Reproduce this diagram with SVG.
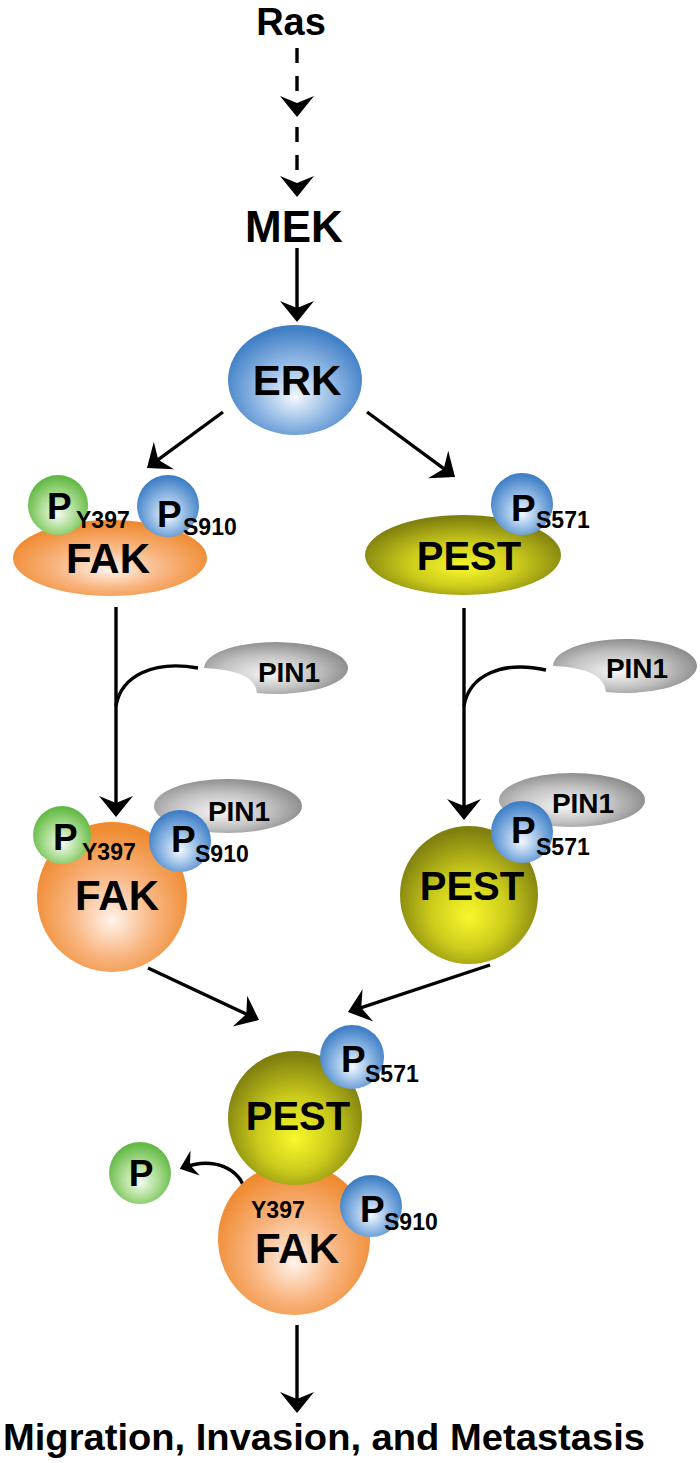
<svg xmlns="http://www.w3.org/2000/svg" width="700" height="1463" viewBox="0 0 700 1463">
<style>
  text { font-family: "Liberation Sans", Arial, sans-serif; font-weight: bold; fill: #000; }
  .big { font-size: 42px; text-anchor: middle; }
  .lbl { font-size: 40px; text-anchor: middle; }
  .p { font-size: 37px; }
  .sub { font-size: 23px; }
  .pin { font-size: 28px; text-anchor: middle; }
  .ln { fill: none; stroke: #000; stroke-width: 3.4; }
  .arr { marker-end: url(#ah); }
  .dash { stroke-dasharray: 15 13; }
</style>
<defs>
  <marker id="ah" viewBox="-23 -18 24 36" refX="-3" refY="0" markerWidth="24" markerHeight="36" markerUnits="userSpaceOnUse" orient="auto">
    <path d="M0,0 L-21,-17 L-14,0 L-21,17 Z" fill="#000"/>
  </marker>
  <marker id="ahs" viewBox="-23 -18 24 36" refX="-3" refY="0" markerWidth="19" markerHeight="28" markerUnits="userSpaceOnUse" orient="auto">
    <path d="M0,0 L-21,-17 L-14,0 L-21,17 Z" fill="#000"/>
  </marker>
  <radialGradient id="gBlue" cx="50%" cy="58%" r="55%" fx="50%" fy="66%">
    <stop offset="0" stop-color="#f4f8fd"/>
    <stop offset="0.5" stop-color="#96bce6"/>
    <stop offset="1" stop-color="#3f7fc6"/>
  </radialGradient>
  <radialGradient id="gOrange" cx="50%" cy="58%" r="55%" fx="50%" fy="66%">
    <stop offset="0" stop-color="#fff3ea"/>
    <stop offset="0.5" stop-color="#f9b682"/>
    <stop offset="1" stop-color="#ef8a30"/>
  </radialGradient>
  <radialGradient id="gOlive" cx="50%" cy="58%" r="55%" fx="50%" fy="66%">
    <stop offset="0" stop-color="#f8f82c"/>
    <stop offset="0.5" stop-color="#cccc1c"/>
    <stop offset="1" stop-color="#80800f"/>
  </radialGradient>
  <radialGradient id="gGreen" cx="50%" cy="58%" r="55%" fx="50%" fy="66%">
    <stop offset="0" stop-color="#f4fbf0"/>
    <stop offset="0.55" stop-color="#a9db8f"/>
    <stop offset="1" stop-color="#62b944"/>
  </radialGradient>
  <radialGradient id="gGray" cx="45%" cy="55%" r="60%" fx="45%" fy="62%">
    <stop offset="0" stop-color="#f6f6f6"/>
    <stop offset="0.55" stop-color="#c2c2c2"/>
    <stop offset="1" stop-color="#858585"/>
  </radialGradient>
</defs>

<g id="connectors">
  <path class="ln arr dash" d="M297,48 L297,114"/>
  <path class="ln arr dash" d="M297,127 L297,194"/>
  <path class="ln arr" d="M297,248 L297,319"/>
  <path class="ln arr" d="M223,412 L149.4,466.2"/>
  <path class="ln arr" d="M367,412 L452.6,475.2"/>
  <path class="ln arr" d="M116,607 L116,814"/>
  <path class="ln arr" d="M464,608 L464,817"/>
  <path class="ln" d="M116,706 C121,676 153,660 198,668"/>
  <path class="ln" d="M464,706 C469,676 501,660 546,670"/>
  <path class="ln arr" d="M148,968 L256.3,1018.7"/>
  <path class="ln arr" d="M490,965 L350.8,1011.1"/>
  <path class="ln" style="marker-end:url(#ahs)" d="M246,1193 C240,1168 214,1156 182,1168"/>
  <path class="ln arr" d="M297,1325 L297,1410"/>
</g>

<g id="ras"><text class="lbl" x="291" y="35" style="font-size:38px">Ras</text></g>
<g id="mek"><text class="big" x="294" y="242" style="font-size:44px">MEK</text></g>

<g id="erk">
  <ellipse cx="295" cy="380" rx="67" ry="55" fill="url(#gBlue)"/>
  <text class="big" x="297" y="395">ERK</text>
</g>

<g id="fak1">
  <ellipse cx="110" cy="558" rx="97" ry="38" fill="url(#gOrange)"/>
  <circle cx="58" cy="505" r="30" fill="url(#gGreen)"/>
  <text class="p" x="47" y="519">P</text>
  <circle cx="168" cy="506" r="31" fill="url(#gBlue)"/>
  <text class="p" x="157" y="527">P</text>
  <text class="sub" x="76" y="528">Y397</text>
  <text class="sub" x="183" y="535">S910</text>
  <text class="big" x="108" y="573">FAK</text>
</g>

<g id="pest1">
  <ellipse cx="463" cy="555" rx="98" ry="40" fill="url(#gOlive)"/>
  <circle cx="522" cy="504" r="31" fill="url(#gBlue)"/>
  <text class="p" x="511" y="521">P</text>
  <text class="sub" x="536" y="528">S571</text>
  <text class="lbl" x="469" y="570">PEST</text>
</g>

<g id="pin1a">
  <path d="M204,668 A72,26 0 1,1 257,693.1 Q255,670 204,668 Z" fill="url(#gGray)"/>
  <text class="pin" x="289" y="682">PIN1</text>
</g>
<g id="pin1b">
  <path d="M553,666 A72,27 0 1,1 606,692 Q604,668 553,666 Z" fill="url(#gGray)"/>
  <text class="pin" x="637" y="678">PIN1</text>
</g>

<g id="fak2">
  <circle cx="112" cy="897" r="75" fill="url(#gOrange)"/>
  <ellipse cx="228" cy="806" rx="74" ry="27" fill="url(#gGray)"/>
  <text class="pin" x="239" y="821">PIN1</text>
  <circle cx="62" cy="835" r="29" fill="url(#gGreen)"/>
  <text class="p" x="53" y="850">P</text>
  <circle cx="180" cy="841" r="31" fill="url(#gBlue)"/>
  <text class="p" x="171" y="852">P</text>
  <text class="sub" x="82" y="860">Y397</text>
  <text class="sub" x="195" y="862">S910</text>
  <text class="big" x="117" y="910">FAK</text>
</g>

<g id="pest2">
  <circle cx="469" cy="895" r="69" fill="url(#gOlive)"/>
  <ellipse cx="572" cy="800" rx="73" ry="27" fill="url(#gGray)"/>
  <text class="pin" x="583" y="813">PIN1</text>
  <circle cx="522" cy="832" r="31" fill="url(#gBlue)"/>
  <text class="p" x="511" y="843">P</text>
  <text class="sub" x="536" y="855">S571</text>
  <text class="lbl" x="472" y="900">PEST</text>
</g>

<g id="complex">
  <circle cx="294" cy="1239" r="76" fill="url(#gOrange)"/>
  <circle cx="295" cy="1118" r="67" fill="url(#gOlive)"/>
  <circle cx="352" cy="1057" r="32" fill="url(#gBlue)"/>
  <text class="p" x="341" y="1072">P</text>
  <text class="sub" x="365" y="1082">S571</text>
  <text class="lbl" x="298" y="1130">PEST</text>
  <circle cx="371" cy="1206" r="31" fill="url(#gBlue)"/>
  <text class="p" x="360" y="1222">P</text>
  <text class="sub" x="384" y="1230">S910</text>
  <text class="sub" x="251" y="1218">Y397</text>
  <text class="big" x="297" y="1263">FAK</text>
</g>

<g id="freeP">
  <circle cx="140" cy="1173" r="31" fill="url(#gGreen)"/>
  <text class="p" x="141" y="1186" text-anchor="middle">P</text>
</g>

<g id="outcome">
  <text x="3" y="1450" style="font-size:37px" textLength="642" lengthAdjust="spacingAndGlyphs">Migration, Invasion, and Metastasis</text>
</g>
</svg>
